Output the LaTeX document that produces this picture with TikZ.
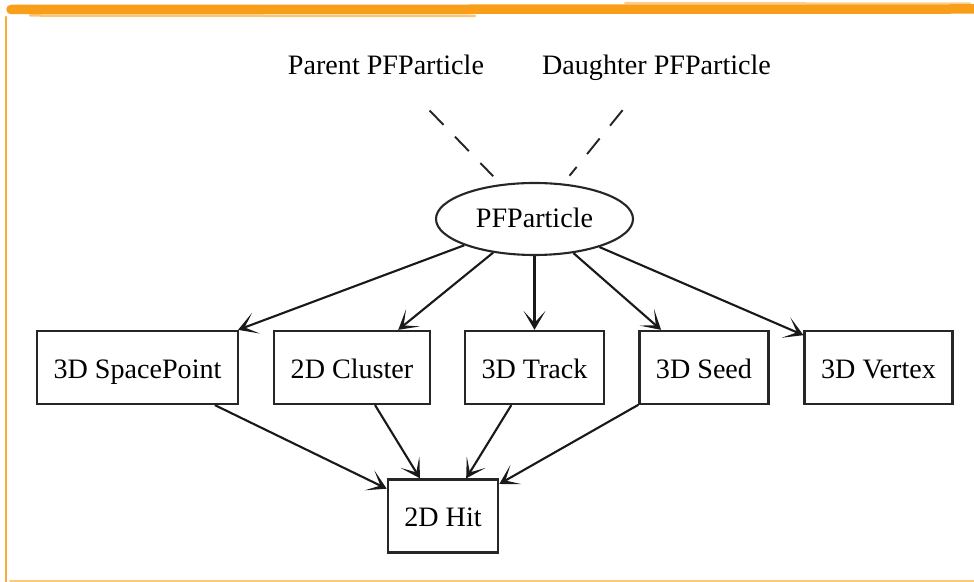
\documentclass[tikz,border=0pt]{standalone}
\usepackage{fontspec}
\setmainfont{Liberation Serif}
\usepackage{tikz}
\usetikzlibrary{positioning,arrows.meta,shapes.geometric}

\definecolor{brushorange}{RGB}{248,158,24}

\begin{document}
\begin{tikzpicture}[
  font=\fontsize{16}{19}\selectfont,
  lbl/.style={inner sep=0pt, anchor=base},
  boxv/.style={rectangle, draw=black!85, line width=1.3pt, minimum height=1.46cm, inner xsep=0.33cm,
    text height=1.3em, text depth=0.1em},
  ellv/.style={ellipse, draw=black!85, line width=1.2pt, minimum width=3.94cm, minimum height=1.44cm, inner sep=0pt,
    text height=1.0em, text depth=0.05em},
  arrowedge/.style={draw=black!90, line width=1.2pt, -{Stealth[length=0.38cm, width=0.44cm, inset=0.24cm]}},
  dashedge/.style={draw=black!85, line width=1.1pt, dash pattern=on 0.4cm off 0.33cm},
  brush/.style={draw=brushorange, line cap=round}
]
\useasboundingbox (0,0) rectangle (19.48,11.64);

% frame
\draw[brush, line width=0.19cm] (0.22,11.45) -- (19.48,11.46);
\draw[brush, line width=0.05cm, opacity=0.6] (0.6,11.33) -- (9.5,11.32);
\draw[brush, line width=0.04cm, opacity=0.5] (12.5,11.58) -- (19.4,11.57);
\draw[brush, line width=0.03cm, opacity=0.7] (0.2,11.37) -- (0.45,11.37);
\draw[brush, line width=0.05cm, opacity=0.85] (0.12,11.3) -- (0.12,0);
\draw[brush, line width=0.04cm, opacity=0.55] (0.2,0.02) -- (19.48,0.02);

\node[ellv] (npfp) at (10.69, 7.26) {PFParticle};
\node[lbl] (nparent) at (7.72, 10.14) {Parent PFParticle};
\node[lbl] (ndaughter) at (13.13, 10.14) {Daughter PFParticle};
\node[boxv] (nsp) at (2.75, 4.29) {3D SpacePoint};
\node[boxv] (ncl) at (7.04, 4.29) {2D Cluster};
\node[boxv] (ntr) at (10.69, 4.29) {3D Track};
\node[boxv] (nse) at (14.08, 4.29) {3D Seed};
\node[boxv] (nve) at (17.57, 4.29) {3D Vertex};
\node[boxv] (nhit) at (8.86, 1.32) {2D Hit};
\draw[dashedge, shorten <=0.97cm, shorten >=0.22cm] (nparent) -- (npfp);
\draw[dashedge, shorten <=0.74cm, shorten >=0.2cm] (ndaughter) -- (npfp);
\draw[arrowedge] (npfp) -- (nsp);
\draw[arrowedge] (npfp) -- (ncl);
\draw[arrowedge] (npfp) -- (ntr);
\draw[arrowedge] (npfp) -- (nse);
\draw[arrowedge] (npfp) -- (nve);
\draw[arrowedge] (nsp) -- (nhit);
\draw[arrowedge] (ncl) -- (nhit);
\draw[arrowedge] (ntr) -- (nhit);
\draw[arrowedge] (nse) -- (nhit);

\end{tikzpicture}
\end{document}
